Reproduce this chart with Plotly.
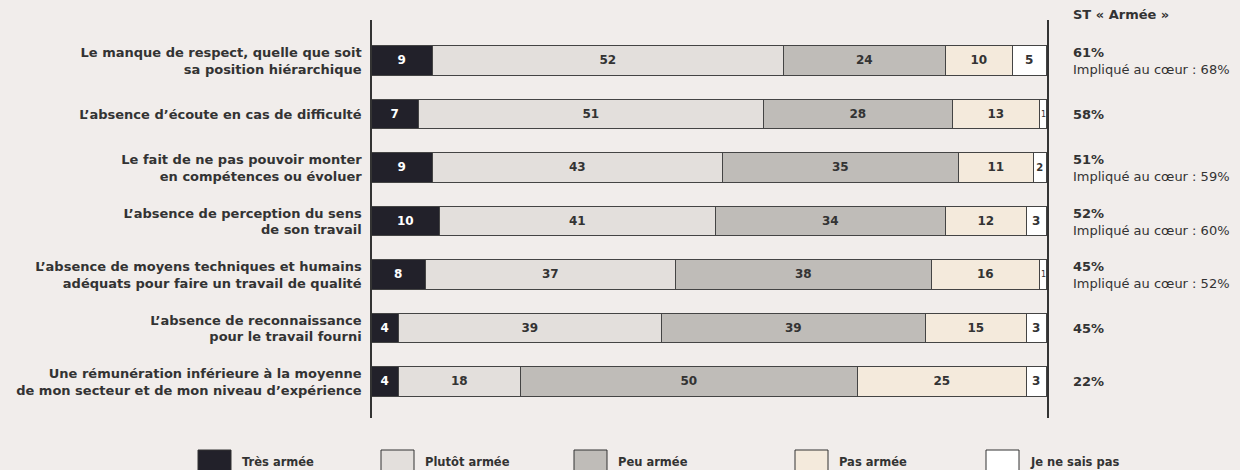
import plotly.graph_objects as go

# Survey items (top to bottom)
items = [
    "Le manque de respect, quelle que soit<br>sa position hiérarchique",
    "L’absence d’écoute en cas de difficulté",
    "Le fait de ne pas pouvoir monter<br>en compétences ou évoluer",
    "L’absence de perception du sens<br>de son travail",
    "L’absence de moyens techniques et humains<br>adéquats pour faire un travail de qualité",
    "L’absence de reconnaissance<br>pour le travail fourni",
    "Une rémunération inférieure à la moyenne<br>de mon secteur et de mon niveau d’expérience",
]

series_names = ["Très armée", "Plutôt armée", "Peu armée", "Pas armée", "Je ne sais pas"]
tres_armee = [9, 7, 9, 10, 8, 4, 4]
plutot_armee = [52, 51, 43, 41, 37, 39, 18]
peu_armee = [24, 28, 35, 34, 38, 39, 50]
pas_armee = [10, 13, 11, 12, 16, 15, 25]
ne_sais_pas = [5, 1, 2, 3, 1, 3, 3]

st_armee = ["61%", "58%", "51%", "52%", "45%", "45%", "22%"]
implique_coeur = ["68%", None, "59%", "60%", "52%", None, None]

colors = ["#22212a", "#e3dfdc", "#bfbcb8", "#f4eadc", "#ffffff"]
text_colors = ["#ffffff", "#333333", "#333333", "#333333", "#333333"]
bg = "#f1edeb"
ink = "#333333"
font_family = "DejaVu Sans, sans-serif"

all_series = [tres_armee, plutot_armee, peu_armee, pas_armee, ne_sais_pas]
rows = list(range(len(items)))

# Plot area in pixels: x 372..1047, y 20..418
W, H = 1240, 470
L, R, T, B = 372, 1047, 20, 418


def px_x(p):
    return (p - L) / (R - L)


def px_y(p):
    return (B - p) / (B - T)


annotations = []
fig = go.Figure()
offsets = [0] * len(items)
for name, vals, col, tcol in zip(series_names, all_series, colors, text_colors):
    labels = []
    for i, v in enumerate(vals):
        if v < 2:
            # segment too thin for an inside label: place a small label at its centre
            labels.append("")
            annotations.append(dict(
                x=offsets[i] + v / 2, y=i, xref="x", yref="y",
                text=str(v), showarrow=False, xanchor="center", yanchor="middle",
                font=dict(size=8, color=tcol, family=font_family, weight=400),
            ))
        else:
            labels.append(str(v))
        offsets[i] += v
    fig.add_trace(go.Bar(
        name=name,
        y=rows,
        x=vals,
        orientation="h",
        width=0.56,
        marker=dict(color=col, line=dict(color="#444444", width=1.5)),
        text=labels,
        textposition="inside",
        insidetextanchor="middle",
        textangle=0,
        textfont=dict(color=tcol, size=12, family=font_family, weight=700),
        showlegend=False,
        hoverinfo="x+name",
    ))

# Column header
annotations.append(dict(
    x=px_x(1071), y=px_y(14), xref="paper", yref="paper",
    text="ST « Armée »", showarrow=False, xanchor="left", yanchor="middle",
    font=dict(size=13, color=ink, family=font_family, weight=700),
))
for i, (pct, sub) in enumerate(zip(st_armee, implique_coeur)):
    annotations.append(dict(
        x=px_x(1071), y=i, xref="paper", yref="y",
        text=pct, showarrow=False, xanchor="left", yanchor="middle",
        yshift=8 if sub else 0,
        font=dict(size=13, color=ink, family=font_family, weight=700),
    ))
    if sub:
        annotations.append(dict(
            x=px_x(1071), y=i, xref="paper", yref="y",
            text="Impliqué au cœur : " + sub, showarrow=False,
            xanchor="left", yanchor="middle", yshift=-9,
            font=dict(size=13, color=ink, family=font_family, weight=400),
        ))

# Legend drawn as swatches with labels along the bottom
shapes = []
legend_x = [198, 381, 574, 795, 986]
for name, col, lx in zip(series_names, colors, legend_x):
    shapes.append(dict(
        type="rect", xref="paper", yref="paper",
        x0=px_x(lx), x1=px_x(lx + 33), y0=px_y(450), y1=px_y(480),
        fillcolor=col, line=dict(color="#333333", width=1),
    ))
    annotations.append(dict(
        x=px_x(lx + 42), y=px_y(462), xref="paper", yref="paper",
        text=name, showarrow=False, xanchor="left", yanchor="middle",
        font=dict(size=11.5, color=ink, family=font_family, weight=700),
    ))

fig.update_layout(
    barmode="stack",
    width=W, height=H,
    margin=dict(l=L, r=W - R, t=T, b=H - B, pad=0),
    paper_bgcolor=bg, plot_bgcolor=bg,
    bargap=0,
    xaxis=dict(range=[0, 100], showgrid=False, zeroline=False, showticklabels=False,
               showline=False, fixedrange=True),
    yaxis=dict(
        range=[6.673, -0.766],
        tickvals=rows, ticktext=items,
        showgrid=False, zeroline=False, ticks="",
        ticklabelstandoff=6,
        tickfont=dict(size=13, color=ink, family=font_family, weight=700),
        showline=True, mirror=True, linecolor="#333333", linewidth=1.5,
        fixedrange=True,
    ),
    shapes=shapes,
    annotations=annotations,
    font=dict(family=font_family, color=ink),
)

fig.write_html("out.html")
